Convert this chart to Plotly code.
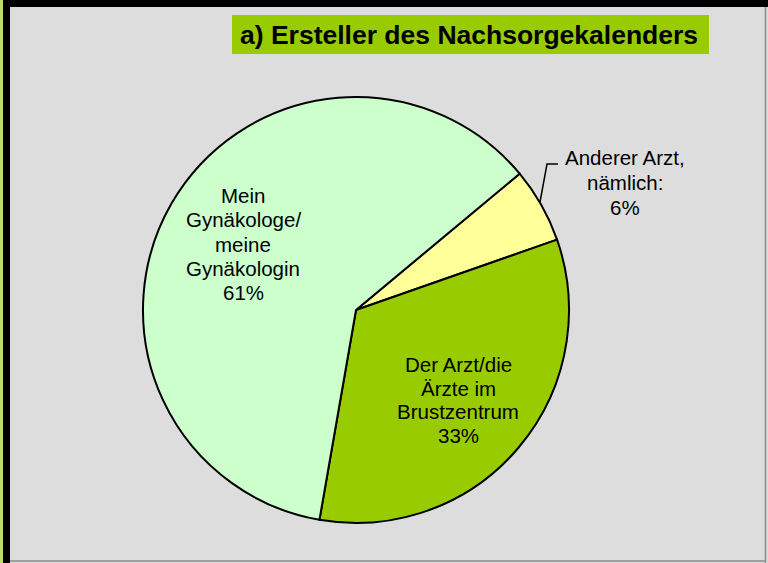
import plotly.graph_objects as go

W, H = 768, 563

# Data
labels = ["Anderer Arzt,<br>nämlich:", "Der Arzt/die<br>Ärzte im<br>Brustzentrum", "Mein<br>Gynäkologe/<br>meine<br>Gynäkologin"]
values = [5.7, 33.1, 61.2]
colors = ["#FFFF99", "#99CC00", "#CCFFCC"]
title_text = "a) Ersteller des Nachsorgekalenders"

total = sum(values)
pcts = [f"{round(v / total * 100):d}%" for v in values]

def px(x):
    return x / W

def py(y):
    return 1 - y / H

cx, cy, r = 356, 310, 213

fig = go.Figure(go.Pie(
    labels=labels,
    values=values,
    sort=False,
    direction="clockwise",
    rotation=50.2,
    marker=dict(colors=colors, line=dict(color="black", width=2)),
    textinfo="none",
    hoverinfo="skip",
    showlegend=False,
    domain=dict(x=[px(cx - r), px(cx + r)], y=[py(cy + r), py(cy - r)]),
))

font = dict(family="Liberation Sans, Arial, sans-serif", size=20.5, color="black")
# block centre (x, y) and line pitch for each label
label_pos = [(625, 182, 25), (458, 400, 23.5), (243, 244, 24)]
annotations = []
for (lx, ly, pitch), lab, p in zip(label_pos, labels, pcts):
    lines = lab.split("<br>") + [p]
    n = len(lines)
    for i, line in enumerate(lines):
        yy = ly + (i - (n - 1) / 2) * pitch
        annotations.append(dict(
            x=px(lx), y=py(yy), xref="paper", yref="paper",
            text=line, showarrow=False, font=font,
            xanchor="center", yanchor="middle", align="center",
        ))

annotations.append(dict(
    x=px(469), y=py(35), xref="paper", yref="paper",
    text=f"<b>{title_text}</b>", showarrow=False,
    font=dict(family="Liberation Sans, Arial, sans-serif", size=26.5, color="black"),
    xanchor="center", yanchor="middle",
))

shapes = [
    # title box
    dict(type="rect", xref="paper", yref="paper", x0=px(232), x1=px(709), y0=py(54), y1=py(15),
         fillcolor="#99CC00", line=dict(width=0), layer="below"),
    # left green strip
    dict(type="rect", xref="paper", yref="paper", x0=0, x1=px(3), y0=0, y1=1,
         fillcolor="#BFD870", line=dict(width=0)),
    # left black border
    dict(type="rect", xref="paper", yref="paper", x0=px(3), x1=px(10), y0=0, y1=1,
         fillcolor="black", line=dict(width=0)),
    # top black border
    dict(type="rect", xref="paper", yref="paper", x0=px(3), x1=1, y0=py(7), y1=1,
         fillcolor="black", line=dict(width=0)),
    # right gray border
    dict(type="line", xref="paper", yref="paper", x0=px(765.5), x1=px(765.5), y0=0, y1=py(7),
         line=dict(color="#8A8A8A", width=1.5)),
    # bottom gray border
    dict(type="line", xref="paper", yref="paper", x0=px(10), x1=px(766), y0=py(561), y1=py(561),
         line=dict(color="#8A8A8A", width=1.5)),
    # leader line
    dict(type="path", xref="paper", yref="paper",
         path=f"M {px(540)},{py(202)} L {px(547)},{py(164)} L {px(558)},{py(164)}",
         line=dict(color="black", width=1.5)),
]

fig.update_layout(
    width=W, height=H,
    margin=dict(l=0, r=0, t=0, b=0),
    paper_bgcolor="#DDDDDD",
    plot_bgcolor="#DDDDDD",
    annotations=annotations,
    shapes=shapes,
)

fig.write_html(
    "out.html",
    config={"displayModeBar": False},
    post_script="document.body.style.margin='0';document.body.style.overflow='hidden';",
)
